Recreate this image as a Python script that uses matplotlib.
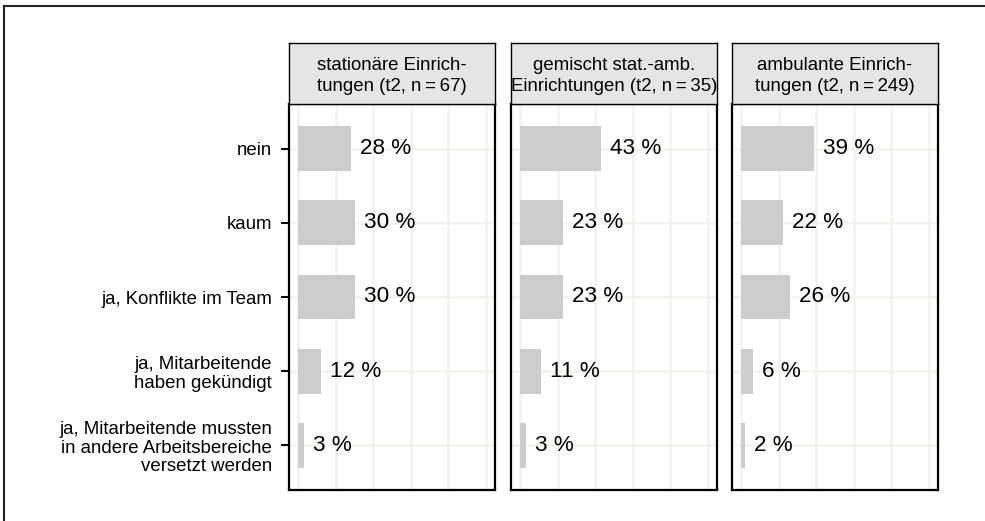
import matplotlib
matplotlib.use("Agg")
import matplotlib.pyplot as plt
from matplotlib.lines import Line2D

plt.rcParams['font.family'] = ['Liberation Sans', 'DejaVu Sans']

categories = ["nein", "kaum", "ja, Konflikte im Team",
              "ja, Mitarbeitende\nhaben gekündigt",
              "ja, Mitarbeitende mussten\nin andere Arbeitsbereiche\nversetzt werden"]
panels = ["stationäre Einrich-\ntungen (t2, n\u2009=\u200967)",
          "gemischt stat.-amb.\nEinrichtungen (t2, n\u2009=\u200935)",
          "ambulante Einrich-\ntungen (t2, n\u2009=\u2009249)"]
values_stationaer = [28, 30, 30, 12, 3]
values_gemischt = [43, 23, 23, 11, 3]
values_ambulant = [39, 22, 26, 6, 2]
series = [values_stationaer, values_gemischt, values_ambulant]
xgrid = [0, 20, 40, 60, 80, 100]

W, H = 985, 521
fig = plt.figure(figsize=(W / 100, H / 100), dpi=100)

lefts = [289, 511, 732]
pw = 206
top_plot, bot_plot = 104, 490
strip_top = 43

for i, (left, title, vals) in enumerate(zip(lefts, panels, series)):
    ax = fig.add_axes([left / W, 1 - bot_plot / H, pw / W, (bot_plot - top_plot) / H])
    ypos = list(range(len(categories)))
    for x in xgrid:
        ax.axvline(x, color='#f1f1ef', lw=1.8, zorder=0)
    for y in ypos:
        ax.axhline(y, color='#f1f1ef', lw=1.8, zorder=0)
    ax.barh(ypos, vals, height=0.6, color='#cccccc', zorder=2)
    for y, v in zip(ypos, vals):
        ax.annotate(f"{v} %", xy=(v, y), xytext=(6.5, 0), textcoords='offset points',
                    ha='left', va='center', fontsize=16.2, color='black', zorder=3)
    ax.set_xlim(-5, 105)
    ax.set_ylim(len(categories) - 0.4, -0.6)
    ax.set_xticks([])
    for s in ax.spines.values():
        s.set_linewidth(1.6)
        s.set_color('black')
    if i == 0:
        ax.set_yticks(ypos)
        ax.set_yticklabels(categories, fontsize=13.4, linespacing=1.12)
        ax.tick_params(axis='y', length=5.5, width=1.5, pad=6.8, color='black')
    else:
        ax.set_yticks([])
    sax = fig.add_axes([left / W, 1 - top_plot / H, pw / W, (top_plot - strip_top) / H])
    sax.set_facecolor('#e5e5e5')
    sax.set_xticks([]); sax.set_yticks([])
    for s in sax.spines.values():
        s.set_linewidth(1.0)
        s.set_color('black')
    sax.text(0.5, 0.46, title, ha='center', va='center', fontsize=13.4,
             linespacing=1.3, transform=sax.transAxes)

fig.add_artist(Line2D([4 / W, 4 / W], [-0.1, 1 - 6 / H], transform=fig.transFigure,
                      color='#222222', lw=1.5))
fig.add_artist(Line2D([4 / W, 1.1], [1 - 6 / H, 1 - 6 / H], transform=fig.transFigure,
                      color='#222222', lw=1.5))

fig.savefig("out.png", dpi=100)
